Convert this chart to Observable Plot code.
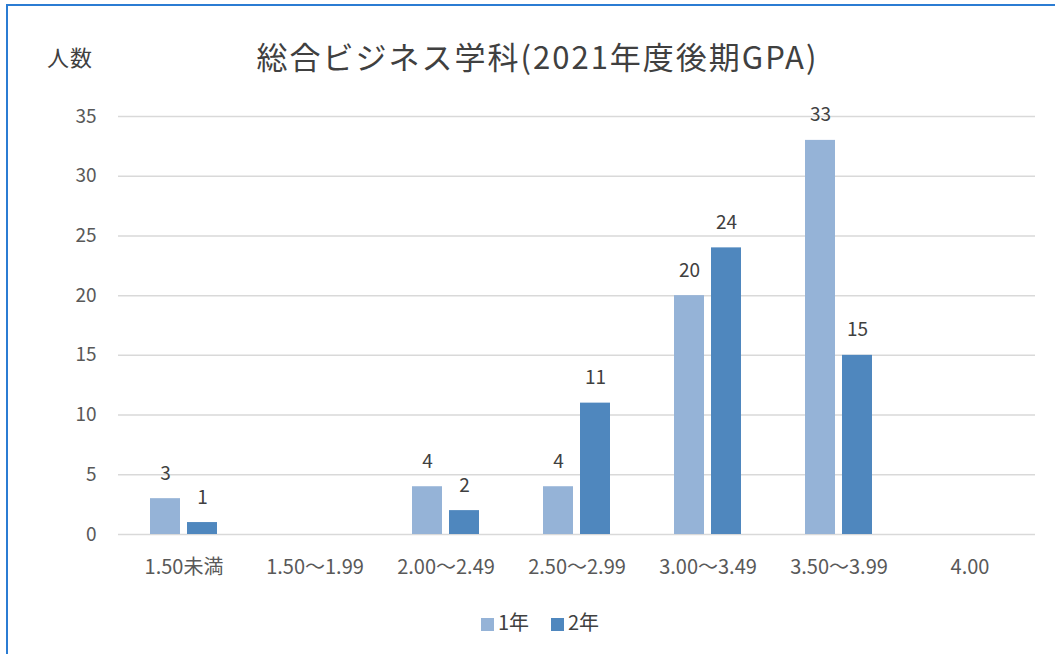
<!DOCTYPE html>
<html>
<head>
<meta charset="utf-8">
<script src="https://cdn.jsdelivr.net/npm/d3@7"></script>
<script src="https://cdn.jsdelivr.net/npm/@observablehq/plot@0.6"></script>
<style>
  html, body { margin: 0; padding: 0; background: #fff; }
  #wrap { position: relative; width: 1055px; height: 654px; overflow: hidden; font-family: "Noto Sans CJK JP", "Noto Sans", sans-serif; }
  #frame { position: absolute; left: 6px; top: 4px; right: -10px; bottom: -10px; border-left: 2px solid #2b7cd3; border-top: 2px solid #2b7cd3; }
  #title { position: absolute; left: 0; width: 1075px; top: 35px; text-align: center; font-size: 31px; letter-spacing: 2px; color: #404040; line-height: 42px; }
  #ylab { position: absolute; left: 47px; top: 41px; font-size: 22px; letter-spacing: 1px; color: #404040; line-height: 30px; }
  #chart { position: absolute; left: 0; top: 0; }
  #legend { position: absolute; left: 0; width: 1080px; top: 608px; text-align: center; font-size: 20px; color: #404040; line-height: 28px; }
  #legend span.sw { display: inline-block; width: 13px; height: 13px; margin-right: 4px; vertical-align: -1px; }
  #legend span.item { margin: 0 11px; }
</style>
</head>
<body>
<div id="wrap">
  <div id="frame"></div>
  <div id="chart"></div>
  <div id="title">総合ビジネス学科(2021年度後期GPA)</div>
  <div id="ylab">人数</div>
  <div id="legend"></div>
</div>
<script>
const categories = ["1.50未満", "1.50～1.99", "2.00～2.49", "2.50～2.99", "3.00～3.49", "3.50～3.99", "4.00"];
const seriesNames = ["1年", "2年"];
const year1 = [3, null, 4, 4, 20, 33, null];
const year2 = [1, null, 2, 11, 24, 15, null];
const seriesColors = ["#95B3D7", "#4F87BE"];
const yTicks = [0, 5, 10, 15, 20, 25, 30, 35];

// one row per category and series; empty categories keep a zero-height bar so their facet exists
const data = [];
categories.forEach((c, i) => {
  data.push({cat: c, series: seriesNames[0], value: year1[i]});
  data.push({cat: c, series: seriesNames[1], value: year2[i]});
});
const labelled = data.filter(d => d.value != null);

const fontFam = '"Noto Sans CJK JP", "Noto Sans", sans-serif';

const chart = Plot.plot({
  width: 1055,
  height: 600,
  marginTop: 116,
  marginBottom: 66,
  marginLeft: 117,
  marginRight: 20,
  style: { fontFamily: fontFam, fontSize: "19px", color: "#595959", background: "transparent" },
  fx: { domain: categories, padding: 0, label: null },
  x: { domain: seriesNames, paddingInner: 0.19, paddingOuter: 0.865, axis: null },
  y: { domain: [0, 35], label: null },
  color: { domain: seriesNames, range: seriesColors },
  marks: [
    Plot.gridY(yTicks, { stroke: "#d9d9d9", strokeOpacity: 1, strokeWidth: 1.5 }),
    Plot.axisY(yTicks, { tickSize: 0, tickPadding: 22, label: null, fontSize: 19, fill: "#595959" }),
    Plot.axisFx({ anchor: "bottom", tickSize: 0, tickPadding: 25, label: null, fontSize: 20, fill: "#595959" }),
    Plot.barY(data, { fx: "cat", x: "series", y: d => d.value ?? 0, fill: "series" }),
    Plot.text(labelled, { fx: "cat", x: "series", y: "value", text: d => String(d.value), dy: -25, fontSize: 19, fill: "#404040", lineAnchor: "middle" })
  ]
});
document.getElementById("chart").appendChild(chart);

const legend = document.getElementById("legend");
seriesNames.forEach((s, i) => {
  const item = document.createElement("span");
  item.className = "item";
  const sw = document.createElement("span");
  sw.className = "sw";
  sw.style.background = seriesColors[i];
  item.appendChild(sw);
  item.appendChild(document.createTextNode(s));
  legend.appendChild(item);
});
</script>
</body>
</html>
